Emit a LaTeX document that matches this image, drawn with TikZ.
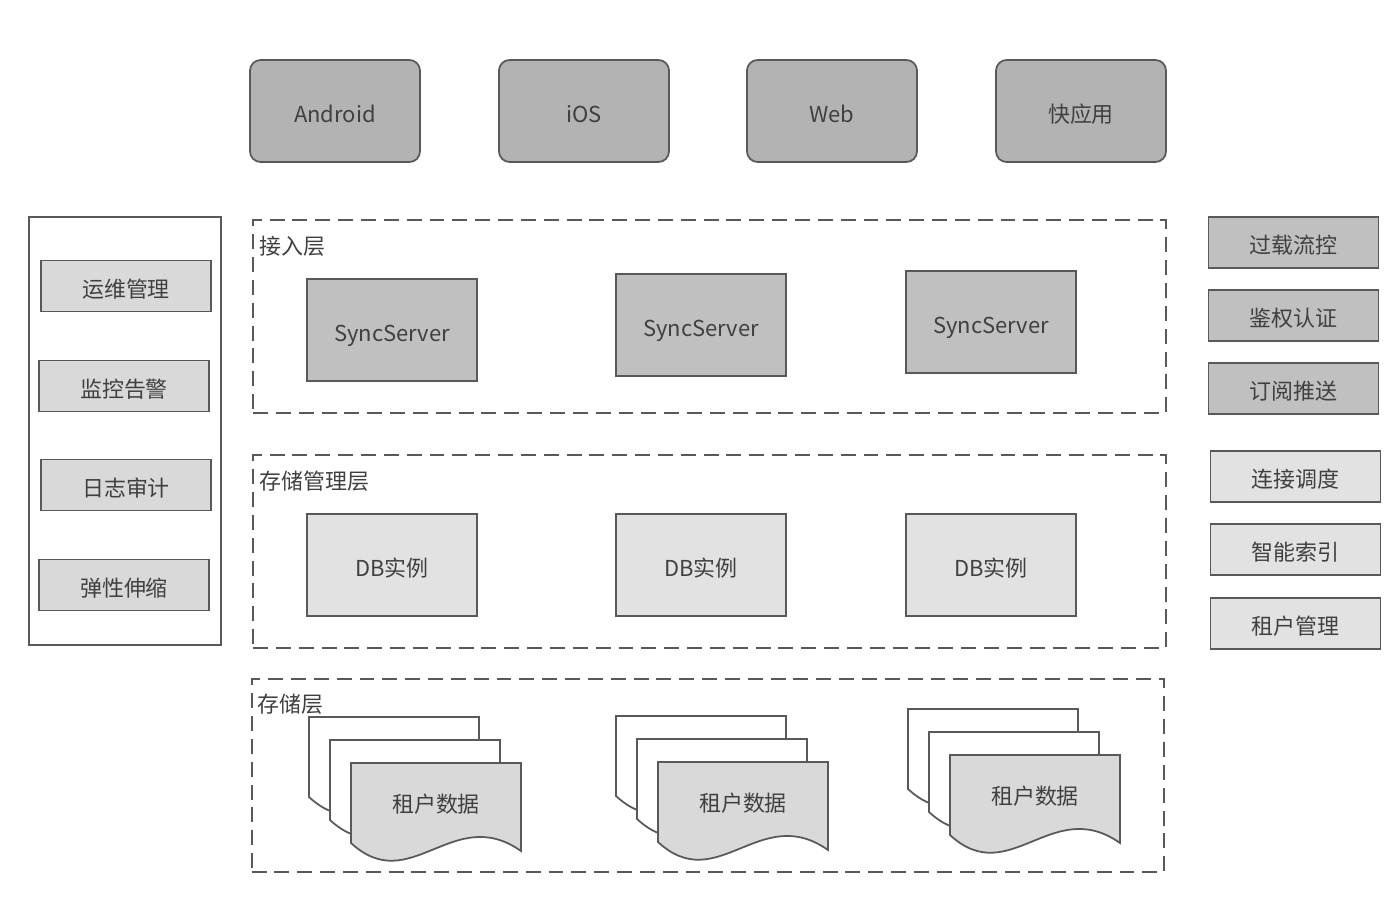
\documentclass[tikz,border=0pt]{standalone}
\usepackage{fontspec}
\setmainfont{Noto Sans CJK SC}
\usepackage{tikz}
\usetikzlibrary{positioning}
\definecolor{edgegray}{HTML}{595959}
\definecolor{textgray}{HTML}{404040}
\definecolor{clientgray}{HTML}{B3B3B3}
\definecolor{servergray}{HTML}{C0C0C0}
\definecolor{lightgray}{HTML}{D9D9D9}
\definecolor{palegray}{HTML}{E2E2E2}
\tikzset{
  box/.style={draw=edgegray, line width=1pt, text=textgray, inner sep=0pt,
    text height=1.4em, text depth=0.1em, font=\fontsize{12.5pt}{15pt}\selectfont},
  client/.style={box, fill=clientgray, rounded corners=6pt, minimum width=3.4cm, minimum height=2.04cm},
  bigbox/.style={box, minimum width=3.4cm, minimum height=2.04cm},
  sidebox/.style={box, minimum width=3.4cm, minimum height=1.02cm},
  layer/.style={draw=edgegray, line width=1.2pt, dash pattern=on 8.5pt off 4.5pt, inner sep=0pt,
    minimum width=18.26cm, minimum height=3.86cm},
  layertext/.style={text=textgray, anchor=west, inner sep=0pt, font=\fontsize{12.5pt}{15pt}\selectfont},
  docline/.style={draw=edgegray, line width=1pt},
}
\begin{document}
\begin{tikzpicture}[x=0.02cm, y=-0.02cm]
        \useasboundingbox (0,0) rectangle (1400,923);

        % Clients
        \node[client] (android) at (335, 111) {Android};
        \node[client] (ios) at (584, 111) {iOS};
        \node[client] (web) at (832, 111) {Web};
        \node[client] (quickapp) at (1081, 111) {快应用};

        % Left panel
        \node[draw=edgegray, line width=1pt, fill=white, minimum width=3.84cm, minimum height=8.56cm] (ops panel) at (125, 431) {};
        \node[sidebox, fill=lightgray] (ops) at (126, 286) {运维管理};
        \node[sidebox, fill=lightgray] (monitor) at (124, 386) {监控告警};
        \node[sidebox, fill=lightgray] (log) at (126, 485) {日志审计};
        \node[sidebox, fill=lightgray] (scale) at (124, 585) {弹性伸缩};

        % Layers
        \node[layer] (access) at (709.5, 316.5) {};
        \node[layertext] (access label) at (259, 246) {接入层};
        \node[layer] (mgmt) at (709.5, 551.5) {};
        \node[layertext] (mgmt label) at (259, 481) {存储管理层};
        \node[layer] (storage) at (708, 775.5) {};
        \node[layertext] (storage label) at (257, 704) {存储层};

        % Access layer
        \node[bigbox, fill=servergray] (sync1) at (392, 330) {SyncServer};
        \node[bigbox, fill=servergray] (sync2) at (701, 325) {SyncServer};
        \node[bigbox, fill=servergray] (sync3) at (991, 322) {SyncServer};

        % Storage management layer
        \node[bigbox, fill=palegray] (db1) at (392, 565) {DB实例};
        \node[bigbox, fill=palegray] (db2) at (701, 565) {DB实例};
        \node[bigbox, fill=palegray] (db3) at (991, 565) {DB实例};

        % Storage layer: stacked documents
        \foreach \gx/\gy in {309/717, 616/716, 908/709} {
          \foreach \k/\col in {0/white, 1/white, 2/lightgray} {
            \begin{scope}[shift={(\gx+21*\k, \gy+23*\k)}]
              \filldraw[docline, fill=\col] (0,0) -- (170,0) -- (170,88)
                .. controls (102,40) and (59.5,135) .. (0,80) -- cycle;
            \end{scope}
          }
        }
        \node[layertext, anchor=center] (data1) at (436, 804) {租户数据};
        \node[layertext, anchor=center] (data2) at (743, 803) {租户数据};
        \node[layertext, anchor=center] (data3) at (1035, 796) {租户数据};

        % Right column
        \node[sidebox, fill=servergray] (overload) at (1293.5, 242.5) {过载流控};
        \node[sidebox, fill=servergray] (auth) at (1293.5, 315.5) {鉴权认证};
        \node[sidebox, fill=servergray] (subscribe) at (1293.5, 388.5) {订阅推送};
        \node[sidebox, fill=palegray] (sched) at (1295.5, 476.5) {连接调度};
        \node[sidebox, fill=palegray] (index) at (1295.5, 549.5) {智能索引};
        \node[sidebox, fill=palegray] (tenant) at (1295.5, 623.5) {租户管理};
\end{tikzpicture}
\end{document}
